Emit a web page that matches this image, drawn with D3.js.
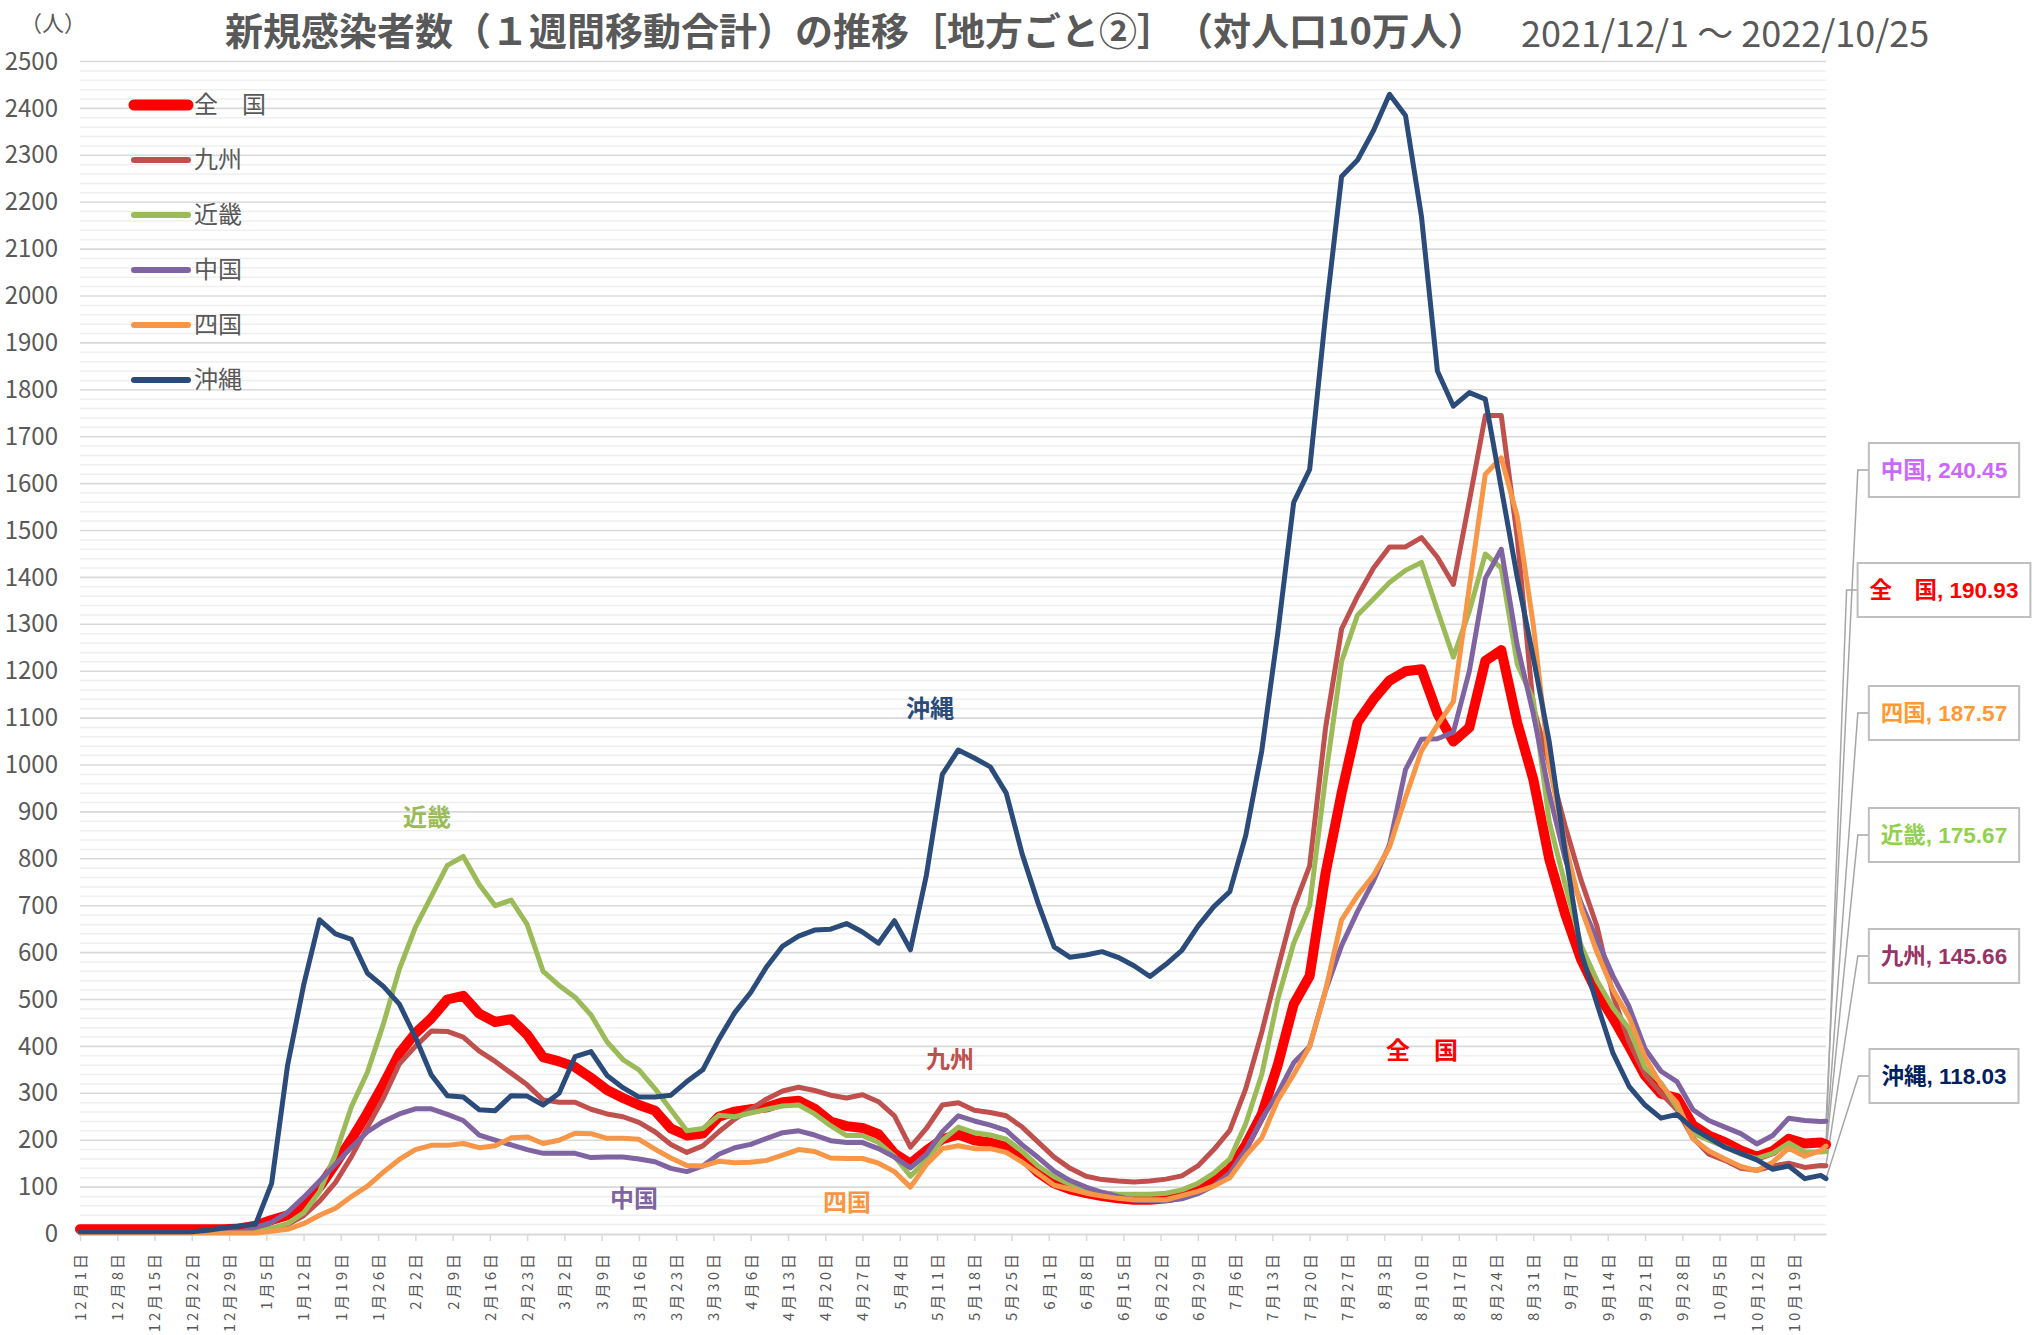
<!DOCTYPE html>
<html lang="ja">
<head>
<meta charset="utf-8">
<script src="https://cdnjs.cloudflare.com/ajax/libs/d3/7.8.5/d3.min.js"></script>
<style>
  html, body { margin: 0; padding: 0; background: #fff; }
  svg text { font-family: "Noto Sans CJK JP", "Noto Sans", sans-serif; text-spacing-trim: space-all; }
</style>
</head>
<body>
<svg id="chart" width="2035" height="1335"></svg>
<script>
// 2021/12/1 からの経過日数（3日おき、最後は 10/25）
var startDate = new Date(2021, 11, 1);
var days = d3.range(0, 328, 3).concat([328]);

// 新規感染者数（1週間移動合計・対人口10万人）
var zenkoku = [
  10,10,10,10,10,10,10,10,10,10,
  12,18,30,40,60,100,150,202,258,319,
  385,428,460,500,508,470,452,458,425,377,
  368,356,333,307,290,275,263,225,210,214,
  250,261,266,270,281,284,267,240,230,226,
  213,172,150,178,202,212,200,195,186,164,
  131,108,95,87,81,76,73,73,76,82,
  95,112,138,190,255,360,490,550,770,940,
  1091,1140,1180,1200,1204,1110,1050,1080,1222,1245,
  1090,970,800,682,585,515,460,400,338,299,
  290,232,210,196,178,165,177,203,193,195,
  190.93];

var kyushu = [
  5,5,5,5,5,5,5,5,5,5,
  5,8,12,20,39,70,110,165,228,290,
  363,400,433,432,420,390,368,343,318,286,
  281,281,266,256,250,238,218,191,174,188,
  218,245,266,288,305,313,306,296,290,297,
  282,252,185,225,275,280,264,259,252,228,
  196,164,140,123,116,113,111,113,117,124,
  145,180,221,310,430,565,695,785,1080,1290,
  1360,1420,1465,1465,1485,1443,1385,1563,1745,1745,
  1485,1125,1000,870,754,655,508,410,340,300,
  265,205,170,157,140,136,145,151,142,146,
  145.66];

var kinki = [
  3,3,3,3,3,3,3,3,3,3,
  3,5,12,22,45,90,170,272,345,448,
  565,654,720,786,805,745,700,712,660,560,
  530,505,467,410,372,350,310,265,220,225,
  253,250,258,266,273,275,256,231,210,210,
  195,166,123,158,200,228,216,211,202,176,
  145,122,106,95,88,85,85,85,87,94,
  108,130,160,235,340,500,620,700,975,1221,
  1320,1354,1389,1415,1432,1330,1230,1328,1450,1420,
  1215,1140,880,745,615,540,482,438,355,322,
  270,215,200,186,170,161,172,194,175,175,
  175.67];

var chugoku = [
  3,3,3,3,3,3,3,3,3,3,
  3,14,25,46,78,113,149,185,218,240,
  256,267,267,255,242,211,200,190,180,172,
  172,172,163,164,164,160,154,140,133,145,
  170,184,191,204,216,220,211,199,195,195,
  182,164,141,170,218,252,241,232,221,190,
  163,134,114,100,89,80,72,71,71,75,
  86,103,130,180,245,300,365,400,520,615,
  688,753,830,990,1055,1056,1070,1200,1398,1460,
  1255,1110,940,800,705,627,550,485,395,347,
  325,265,242,228,214,192,210,247,242,240,
  240.45];

var shikoku = [
  2,2,2,2,2,2,2,2,2,2,
  2,2,6,10,22,40,55,80,102,132,
  159,180,189,189,193,184,188,205,207,193,
  200,215,214,204,204,202,181,162,146,145,
  155,152,153,157,168,180,176,162,161,161,
  151,133,100,148,182,188,182,182,174,153,
  129,104,96,87,81,76,73,73,73,82,
  91,102,120,167,205,285,340,400,520,670,
  722,765,825,930,1030,1085,1135,1380,1620,1655,
  1530,1300,1000,830,695,600,520,462,377,318,
  280,203,177,160,144,135,153,183,166,178,
  187.57];

var okinawa = [
  5,5,5,5,5,5,5,5,8,13,
  17,21,108,360,530,670,640,628,556,528,
  490,420,339,295,292,265,263,295,294,275,
  300,378,389,338,312,292,292,296,325,350,
  415,472,515,570,614,635,648,650,662,644,
  620,668,606,765,980,1032,1015,996,940,810,
  705,612,590,595,602,590,572,549,575,605,
  656,698,730,850,1030,1280,1560,1630,1960,2255,
  2290,2353,2430,2385,2170,1840,1765,1794,1780,1590,
  1400,1230,1050,815,600,490,385,315,275,247,
  255,225,205,185,172,158,138,145,118,125,
  118.03];

var yTicks = d3.range(0, 2501, 100);
var weekDays = d3.range(0, 323, 7);

var series = [
  {name: "全　国", values: zenkoku, color: "#FF0000", width: 10, label: "#FF0000"},
  {name: "九州", values: kyushu, color: "#C0504D", width: 5, label: "#993366"},
  {name: "近畿", values: kinki, color: "#9BBB59", width: 5, label: "#92D050"},
  {name: "中国", values: chugoku, color: "#8064A2", width: 5, label: "#CC66FF"},
  {name: "四国", values: shikoku, color: "#F79646", width: 5, label: "#FF9933"},
  {name: "沖縄", values: okinawa, color: "#2B4C7B", width: 5, label: "#002060"}
];

var svg = d3.select("#chart");
var gray = "#595959";

var x = d3.scaleTime()
  .domain([startDate, d3.timeDay.offset(startDate, 328)])
  .range([80, 1826]);
var y = d3.scaleLinear().domain([0, 2500]).range([1234, 61.5]);

// grid
svg.append("g").selectAll("line")
  .data(d3.range(20, 2500, 20).filter(function(v) { return v % 100 != 0; }))
  .enter().append("line")
  .attr("x1", 80).attr("x2", 1826)
  .attr("y1", function(d) { return y(d); }).attr("y2", function(d) { return y(d); })
  .attr("stroke", "#efefef").attr("stroke-width", 1.5);

svg.append("g").selectAll("line")
  .data(yTicks.slice(1))
  .enter().append("line")
  .attr("x1", 80).attr("x2", 1826)
  .attr("y1", function(d) { return y(d); }).attr("y2", function(d) { return y(d); })
  .attr("stroke", "#d9d9d9").attr("stroke-width", 1.6);

// axes
var yAxis = svg.append("g")
  .attr("transform", "translate(80,0)")
  .call(d3.axisLeft(y).tickValues(yTicks).tickFormat(d3.format("d")).tickSize(0).tickPadding(22));
yAxis.select(".domain").remove();
yAxis.selectAll("text")
  .attr("fill", gray)
  .style("font-size", "24px");

var xAxis = svg.append("g")
  .attr("transform", "translate(0,1234)")
  .call(d3.axisBottom(x)
    .tickValues(weekDays.map(function(d) { return d3.timeDay.offset(startDate, d); }))
    .tickFormat(d3.timeFormat("%-m月%-d日"))
    .tickSize(7).tickSizeOuter(0));
xAxis.select(".domain").attr("stroke", "#d9d9d9").attr("stroke-width", 2);
xAxis.selectAll(".tick line").attr("stroke", "#d9d9d9").attr("stroke-width", 1.5);
xAxis.selectAll("text")
  .attr("transform", "rotate(-90)")
  .attr("x", -17).attr("y", 0).attr("dy", "0.36em")
  .attr("text-anchor", "end")
  .attr("fill", gray)
  .style("font-size", "15px")
  .style("letter-spacing", "3px");

// lines
var line = d3.line()
  .x(function(d, i) { return x(d3.timeDay.offset(startDate, days[i])); })
  .y(function(d) { return y(d); });

svg.append("g").selectAll("path")
  .data(series)
  .enter().append("path")
  .attr("d", function(d) { return line(d.values); })
  .attr("fill", "none")
  .attr("stroke", function(d) { return d.color; })
  .attr("stroke-width", function(d) { return d.width; })
  .attr("stroke-linejoin", "round")
  .attr("stroke-linecap", "round");

// title
svg.append("text")
  .attr("x", 225).attr("y", 32).attr("dy", "0.35em")
  .attr("fill", gray)
  .style("font-size", "38px").style("font-weight", "bold")
  .text("新規感染者数（１週間移動合計）の推移［地方ごと②］（対人口10万人）");

svg.append("text")
  .attr("x", 1521).attr("y", 34).attr("dy", "0.35em")
  .attr("fill", gray)
  .style("font-size", "36px")
  .text("2021/12/1 ～ 2022/10/25");

svg.append("text")
  .attr("x", 53).attr("y", 23).attr("dy", "0.35em")
  .attr("text-anchor", "middle")
  .attr("fill", gray)
  .style("font-size", "22px")
  .text("（人）");

// legend
var legend = svg.append("g");
series.forEach(function(s, i) {
  var ly = 105 + i * 55;
  legend.append("line")
    .attr("x1", 134).attr("x2", 188).attr("y1", ly).attr("y2", ly)
    .attr("stroke", s.color)
    .attr("stroke-width", i == 0 ? 11 : 6)
    .attr("stroke-linecap", "round");
  legend.append("text")
    .attr("x", 194).attr("y", ly).attr("dy", "0.35em")
    .attr("fill", gray)
    .style("font-size", "24px")
    .text(s.name);
});

// labels inside the plot
var inline = [
  {name: "近畿", x: 427, y: 818},
  {name: "沖縄", x: 930, y: 709},
  {name: "九州", x: 950, y: 1060},
  {name: "全　国", x: 1422, y: 1051},
  {name: "中国", x: 634, y: 1199},
  {name: "四国", x: 847, y: 1203}
];
inline.forEach(function(l) {
  var s = series.find(function(d) { return d.name == l.name; });
  svg.append("text")
    .attr("x", l.x).attr("y", l.y).attr("dy", "0.35em")
    .attr("text-anchor", "middle")
    .attr("fill", s.color)
    .style("font-size", "24px").style("font-weight", "bold")
    .text(l.name);
});

// end value boxes, sorted from highest to lowest
var ends = series.slice().sort(function(a, b) {
  return b.values[b.values.length - 1] - a.values[a.values.length - 1];
});
var boxY = [470, 590, 713, 835, 956, 1076];
var endX = x(d3.timeDay.offset(startDate, 328));

ends.forEach(function(s, i) {
  var v = s.values[s.values.length - 1];
  var g = svg.append("g");
  var t = g.append("text")
    .attr("x", 1944).attr("y", boxY[i]).attr("dy", "0.35em")
    .attr("text-anchor", "middle")
    .attr("fill", s.label)
    .style("font-family", "'Liberation Sans', 'Noto Sans CJK JP', sans-serif")
    .style("font-size", "22.5px").style("font-weight", "bold")
    .text(s.name + ", " + d3.format(".2f")(v));
  var w = t.node().getComputedTextLength() + 24;
  var left = 1944 - w / 2;
  g.insert("rect", "text")
    .attr("x", left).attr("y", boxY[i] - 27)
    .attr("width", w).attr("height", 54)
    .attr("fill", "#fff")
    .attr("stroke", "#bfbfbf").attr("stroke-width", 2);
  svg.insert("polyline", "g")
    .attr("points", [[endX, y(v)], [left - 11, boxY[i]], [left, boxY[i]]].join(" "))
    .attr("fill", "none")
    .attr("stroke", "#a6a6a6").attr("stroke-width", 1.5);
});
</script>
</body>
</html>
